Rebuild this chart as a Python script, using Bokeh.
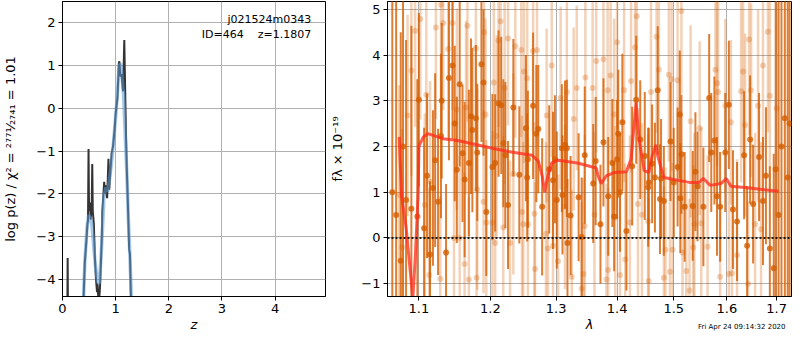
from bokeh.plotting import figure
from bokeh.layouts import row
from bokeh.models import Range1d, FixedTicker, CustomJSTickFormatter, Label, Span, ColumnDataSource
from bokeh.embed import file_html
from bokeh.resources import INLINE

# ---------------- left panel: redshift PDF ----------------
pz_z_raw = [0.090, 0.097, 0.104, 0.38, 0.42, 0.45, 0.47, 0.48, 0.49, 0.50, 0.52, 0.53, 0.55, 0.56, 0.57,
            0.59, 0.61, 0.63, 0.65, 0.66, 0.68, 0.70, 0.71, 0.725, 0.74, 0.75, 0.77, 0.785, 0.80, 0.81,
            0.84, 0.865, 0.88, 0.90, 0.925, 0.95, 0.98, 1.00, 1.035, 1.06, 1.07, 1.09, 1.11, 1.14, 1.163,
            1.18, 1.195, 1.21, 1.23, 1.255, 1.27, 1.29]
pz_logp_raw = [-5.0, -3.5, -5.0, -5.0, -3.6, -3.09, -2.7, -2.63, -0.95, -2.4, -2.2, -2.6, -2.3, -1.3, -2.4,
               -2.7, -3.5, -4.0, -4.3, -4.1, -4.6, -4.3, -4.07, -3.54, -3.0, -2.4, -2.0, -1.72, -2.0, -1.8,
               -2.1, -1.18, -1.9, -1.5, -1.04, -0.9, -0.5, -0.13, 0.25, 1.05, 1.1, 0.75, 0.8, 0.4, 1.6,
               0.4, -0.6, -1.41, -2.2, -3.31, -3.4, -4.6]
pz_z_smooth = [0.38, 0.42, 0.46, 0.49, 0.52, 0.55, 0.58, 0.62, 0.66, 0.69, 0.72, 0.75, 0.78, 0.82, 0.85,
               0.88, 0.92, 0.96, 1.00, 1.03, 1.06, 1.08, 1.10, 1.12, 1.15, 1.18, 1.21, 1.24, 1.27, 1.30]
pz_logp_smooth = [-5.0, -3.6, -2.8, -2.5, -2.55, -2.7, -3.1, -3.7, -4.05, -4.1, -3.6, -2.9, -2.05, -1.85, -1.95,
                  -1.7, -1.3, -0.8, -0.2, 0.3, 0.9, 1.05, 1.0, 0.75, 0.3, -0.6, -1.5, -2.6, -3.5, -4.6]
pz_xticks = [0, 1, 2, 3, 4]
pz_yticks = [-4, -3, -2, -1, 0, 1, 2]

# ---------------- right panel: spectrum ----------------
dark_wave = [1.065, 1.070, 1.076, 1.079, 1.083, 1.090, 1.098, 1.100, 1.107, 1.111, 1.115, 1.119, 1.122, 1.126,
             1.130, 1.131, 1.137, 1.141, 1.146, 1.149, 1.152, 1.156, 1.160, 1.163, 1.169, 1.172, 1.174, 1.179,
             1.181, 1.187, 1.190, 1.194, 1.203, 1.207, 1.212, 1.216, 1.219, 1.222, 1.226, 1.234, 1.243, 1.253,
             1.255, 1.256, 1.264, 1.269, 1.272, 1.278, 1.289, 1.295, 1.298, 1.301, 1.309, 1.310, 1.314, 1.317,
             1.318, 1.323, 1.336, 1.341, 1.346, 1.360, 1.364, 1.372, 1.377, 1.385, 1.392, 1.395, 1.400, 1.402,
             1.405, 1.409, 1.416, 1.426, 1.433, 1.440, 1.448, 1.454, 1.455, 1.461, 1.466, 1.471, 1.475, 1.477,
             1.482, 1.494, 1.500, 1.507, 1.511, 1.512, 1.514, 1.520, 1.535, 1.540, 1.544, 1.555, 1.566, 1.570,
             1.576, 1.581, 1.587, 1.597, 1.604, 1.612, 1.620, 1.634, 1.640, 1.646, 1.652, 1.664, 1.672, 1.678,
             1.686, 1.694, 1.698, 1.704, 1.710, 1.717, 1.723, 1.727]
dark_flux = [1.0, 0.5, -0.5, 2.0, 0.83, 0.64, 0.47, 3.02, 0.21, 1.36, -0.36, 1.09, 1.70, 0.79,
             2.23, 3.00, -0.32, 3.50, 3.77, 2.50, 1.49, 3.36, 1.85, 1.28, 1.64, 2.66, 2.36, 2.62,
             1.87, 3.80, 3.40, 0.57, 1.55, 1.64, 2.94, 2.90, 2.07, 1.81, 0.72, 2.85, 1.38, 2.40,
             1.32, 1.72, 2.89, 2.28, 2.38, 0.68, 1.50, 1.26, 1.72, 0.83, 1.96, 0.94, 2.04, 1.96,
             -0.11, 0.49, 0.89, 0.02, 1.81, 1.19, 1.68, 0.30, 2.09, 0.91, 1.64, 0.47, 1.72, 2.28,
             1.00, 2.53, 0.15, 1.57, 3.02, 2.15, 1.79, 1.11, 1.21, 1.62, 1.32, 3.23, 0.85, 1.30,
             0.81, 2.11, 1.21, 1.55, 2.70, 0.87, 1.83, 0.68, 0.70, 1.45, 1.13, 0.68, 3.06, 1.87,
             2.13, 0.91, 0.68, 1.87, 2.91, 0.62, 0.36, 1.81, -0.17, 2.15, 0.74, 1.77, 0.81, 1.36,
             -0.23, -0.66, 1.5, 0.5, 2.0, 2.62, 1.32, 2.5]
dark_err = [6.0, 5.0, 5.0, 5.0, 3.5, 4.0, 3.0, 1.9, 2.2, 1.8, 1.6, 1.7, 1.9, 1.6,
            1.8, 1.7, 1.5, 1.8, 1.6, 1.7, 1.6, 1.8, 1.5, 1.7, 1.6, 1.7, 1.8, 1.6,
            1.5, 1.7, 1.6, 1.4, 1.6, 1.5, 1.6, 1.5, 1.4, 1.6, 1.4, 1.5, 1.5, 1.6,
            1.4, 1.5, 1.6, 1.5, 1.4, 1.5, 1.4, 1.5, 1.4, 1.5, 1.4, 1.3, 1.4, 1.5,
            1.4, 1.3, 1.4, 1.3, 1.5, 1.3, 1.4, 1.3, 1.4, 1.3, 1.4, 1.2, 1.3, 1.4,
            1.3, 1.5, 1.3, 1.3, 1.4, 1.3, 1.4, 1.3, 1.2, 1.3, 1.2, 1.4, 1.2, 1.3,
            1.2, 1.3, 1.2, 1.3, 1.4, 1.2, 1.3, 1.2, 1.2, 1.3, 1.2, 1.3, 1.4, 1.3,
            1.4, 1.3, 1.2, 1.3, 1.4, 1.3, 1.3, 1.4, 1.3, 1.4, 1.3, 1.4, 1.4, 1.5,
            1.8, 2.5, 6.0, 6.0, 6.0, 6.0, 6.0, 6.0]

light_wave = [1.074, 1.078, 1.085, 1.090, 1.095, 1.102, 1.108, 1.110, 1.114, 1.115, 1.123, 1.129, 1.130, 1.133,
              1.140, 1.146, 1.148, 1.152, 1.156, 1.163, 1.165, 1.167, 1.169, 1.179, 1.180, 1.181, 1.190, 1.191,
              1.193, 1.194, 1.203, 1.205, 1.207, 1.209, 1.212, 1.215, 1.219, 1.221, 1.226, 1.229, 1.234, 1.237,
              1.246, 1.247, 1.249, 1.250, 1.255, 1.256, 1.264, 1.266, 1.267, 1.270, 1.284, 1.285, 1.287, 1.293,
              1.295, 1.303, 1.307, 1.314, 1.317, 1.325, 1.328, 1.333, 1.341, 1.344, 1.346, 1.347, 1.359, 1.362,
              1.365, 1.377, 1.382, 1.384, 1.385, 1.389, 1.395, 1.397, 1.400, 1.405, 1.412, 1.414, 1.422, 1.424,
              1.431, 1.434, 1.436, 1.443, 1.454, 1.455, 1.459, 1.469, 1.473, 1.482, 1.485, 1.491, 1.493, 1.496,
              1.498, 1.507, 1.514, 1.516, 1.523, 1.529, 1.531, 1.536, 1.538, 1.548, 1.551, 1.563, 1.578, 1.581,
              1.583, 1.587, 1.597, 1.604, 1.608, 1.610, 1.620, 1.628, 1.632, 1.636, 1.642, 1.644, 1.648, 1.656,
              1.662, 1.668, 1.672, 1.682, 1.686, 1.700]
light_flux = [0.94, -0.21, 2.68, 3.66, 4.53, 4.79, 0.72, 3.13, -0.81, 1.23, 4.60, -0.89, 5.10, 4.70,
              4.13, 4.70, 0.00, 2.81, 0.00, -0.57, 2.85, 4.64, -0.91, 4.15, -0.87, 1.06, 0.79, 4.50,
              2.70, 0.34, 0.34, 3.40, -0.11, 2.23, 4.32, 4.74, 0.23, 3.28, 4.36, -0.11, 1.40, 4.19,
              4.11, 0.57, 0.30, 3.64, 3.49, 0.30, 4.09, 0.53, -0.68, 4.11, 0.09, 2.68, -0.23, 3.77,
              -0.17, -0.51, 3.06, 0.68, 3.19, -0.85, 2.60, 3.28, -1.11, -0.79, 0.26, 3.51, 3.28, 0.51,
              3.87, 3.91, -0.91, 3.23, -0.70, 3.55, 2.70, 0.45, 4.28, -0.81, 3.23, -0.47, 0.34, 3.43,
              4.17, 4.85, 0.74, 0.51, 0.36, -0.94, 3.19, 4.40, 3.68, -0.87, -0.26, 3.57, -0.74, 3.47,
              -0.26, 3.45, 4.96, -0.32, -0.72, -1.15, 2.55, -0.21, 0.30, 2.40, 0.32, -0.19, 3.68, 3.38,
              3.19, -0.85, 2.89, -0.79, 2.53, -0.77, -0.38, 3.21, 3.64, 2.47, -1.00, 4.34, 3.23, 0.30,
              2.89, 0.19, 3.77, 4.51, 3.11, 2.83]
light_err = [2.4, 2.6, 2.2, 2.3, 2.1, 2.2, 2.0, 2.1, 1.9, 2.2, 2.0, 1.8, 2.1, 1.9,
             2.0, 1.9, 2.1, 2.2, 1.8, 2.0, 1.9, 2.1, 1.8, 2.0, 1.9, 2.2, 2.0, 1.9,
             2.1, 1.8, 2.0, 1.9, 2.1, 2.2, 1.9, 1.8, 2.0, 2.1, 1.9, 1.8, 2.2, 2.0,
             1.9, 2.1, 1.8, 2.0, 2.1, 1.9, 1.8, 2.0, 1.9, 2.1, 2.0, 1.9, 1.8, 2.0,
             2.1, 1.9, 2.0, 1.8, 2.1, 1.9, 2.0, 1.8, 1.9, 2.1, 2.0, 1.9, 2.1, 1.8,
             2.0, 1.9, 2.1, 2.0, 1.8, 1.9, 2.1, 2.0, 1.9, 1.8, 2.0, 2.1, 1.9, 2.0,
             1.8, 1.9, 2.1, 2.0, 1.9, 1.8, 2.0, 2.1, 1.9, 2.0, 1.8, 1.9, 2.1, 2.0,
             1.9, 2.0, 1.8, 2.1, 1.9, 2.0, 2.1, 1.8, 2.0, 1.9, 2.1, 2.0, 1.9, 1.8,
             2.0, 2.1, 1.9, 2.0, 1.8, 1.9, 2.1, 2.0, 1.9, 2.0, 1.8, 2.1, 1.9, 2.0,
             2.1, 1.9, 2.0, 2.2, 2.1, 2.3]

model_wave = [1.074, 1.077, 1.083, 1.090, 1.092, 1.095, 1.099, 1.100, 1.106, 1.112, 1.133, 1.153, 1.203,
              1.226, 1.262, 1.272, 1.278, 1.282, 1.287, 1.293, 1.303, 1.334, 1.365, 1.368, 1.373, 1.382,
              1.395, 1.416, 1.424, 1.428, 1.433, 1.435, 1.438, 1.447, 1.455, 1.461, 1.468, 1.471, 1.482,
              1.500, 1.531, 1.546, 1.555, 1.568, 1.589, 1.599, 1.608, 1.646, 1.704]
model_flux = [2.21, 0.94, 0.23, -0.98, -1.30, -0.49, 0.94, 2.00, 2.21, 2.28, 2.17, 2.13, 1.96,
              1.89, 1.81, 1.68, 1.36, 1.00, 1.36, 1.64, 1.70, 1.64, 1.53, 1.36, 1.19, 1.36,
              1.43, 1.45, 1.72, 2.30, 2.96, 2.60, 2.15, 1.47, 1.43, 1.79, 2.04, 1.79, 1.32,
              1.28, 1.21, 1.21, 1.30, 1.15, 1.19, 1.30, 1.13, 1.09, 1.02]
spec_xticks = [1.1, 1.2, 1.3, 1.4, 1.5, 1.6, 1.7]
spec_yticks = [-1, 0, 1, 2, 3, 4, 5]

FONT = "DejaVu Sans"
ORANGE = "#d55e00"
MINUS_FMT = "return (tick < 0 ? '\\u2212' + (-tick) : '' + tick);"


def style(p):
    p.outline_line_color = "black"
    p.outline_line_width = 1
    p.background_fill_color = "white"
    p.border_fill_color = "white"
    for ax in [p.xaxis[0], p.yaxis[0]]:
        ax.major_label_text_font = FONT
        ax.major_label_text_font_size = "13px"
        ax.major_label_text_color = "black"
        ax.axis_label_text_font = FONT
        ax.axis_label_text_font_size = "13px"
        ax.axis_label_text_color = "black"
        ax.major_tick_in = 0
        ax.major_tick_out = 4
        ax.minor_tick_in = 0
        ax.minor_tick_out = 0
        ax.major_tick_line_color = "black"
        ax.axis_line_color = "black"
        ax.major_label_standoff = 3
    p.grid.grid_line_color = "#b0b0b0"
    p.grid.grid_line_width = 1


H = 342
BOTTOM = 44

p1 = figure(width=327, height=H, x_range=Range1d(0, 4.95), y_range=Range1d(-4.4, 2.5),
            output_backend="svg", toolbar_location=None,
            min_border_left=54, min_border_right=2, min_border_top=1, min_border_bottom=BOTTOM)
style(p1)
p1.xaxis.ticker = FixedTicker(ticks=pz_xticks)
p1.yaxis.ticker = FixedTicker(ticks=pz_yticks)
p1.xaxis.formatter = CustomJSTickFormatter(code=MINUS_FMT)
p1.yaxis.formatter = CustomJSTickFormatter(code=MINUS_FMT)
p1.xaxis.axis_label = "z"
p1.xaxis.axis_label_text_font_style = "italic"
p1.xaxis.axis_label_standoff = 1
p1.yaxis.axis_label = "log p(z) / \u03c7\u00b2 = \u00b2\u2077\u2077\u00b9\u2044\u2082\u2087\u2084\u2081 = 1.01"
p1.yaxis.axis_label_text_font_style = "normal"
p1.yaxis.axis_label_standoff = 15

p1.line(pz_z_raw, pz_logp_raw, line_color="#333333", line_width=2)
p1.line(pz_z_smooth, pz_logp_smooth, line_color="#5b9bd5", line_alpha=0.55, line_width=3.5)

p1.add_layout(Label(x=4.68, y=2.07, text="j021524m0343", text_align="right", text_baseline="middle",
                    text_font=FONT, text_font_size="11px", text_color="black"))
p1.add_layout(Label(x=4.68, y=1.73, text="ID=464\u00a0\u00a0\u00a0\u00a0z=1.1807", text_align="right",
                    text_baseline="middle", text_font=FONT, text_font_size="11px", text_color="black"))

p2 = figure(width=465, height=H, x_axis_type="log", x_range=Range1d(1.0588, 1.731),
            y_range=Range1d(-1.28, 5.17), output_backend="svg", toolbar_location=None,
            min_border_left=56, min_border_right=1, min_border_top=1, min_border_bottom=BOTTOM)
style(p2)
p2.xaxis.ticker = FixedTicker(ticks=spec_xticks)
p2.xaxis.formatter = CustomJSTickFormatter(code="return tick.toFixed(1);")
p2.yaxis.ticker = FixedTicker(ticks=spec_yticks)
p2.yaxis.formatter = CustomJSTickFormatter(code=MINUS_FMT)
p2.xaxis.axis_label = "\u03bb"
p2.xaxis.axis_label_text_font_style = "italic"
p2.xaxis.axis_label_standoff = 1
p2.yaxis.axis_label = "f\u03bb \u00d7 10\u207b\u00b9\u2079"
p2.yaxis.axis_label_text_font_style = "normal"
p2.yaxis.axis_label_standoff = 13

light_src = ColumnDataSource(dict(w=light_wave, f=light_flux,
                                  lo=[f - e for f, e in zip(light_flux, light_err)],
                                  hi=[f + e for f, e in zip(light_flux, light_err)]))
dark_src = ColumnDataSource(dict(w=dark_wave, f=dark_flux,
                                 lo=[f - e for f, e in zip(dark_flux, dark_err)],
                                 hi=[f + e for f, e in zip(dark_flux, dark_err)]))

p2.segment(x0="w", y0="lo", x1="w", y1="hi", source=light_src, line_color=ORANGE, line_alpha=0.28, line_width=2.5)
p2.scatter("w", "f", source=light_src, size=6, fill_color=ORANGE, fill_alpha=0.28, line_color=None)
p2.segment(x0="w", y0="lo", x1="w", y1="hi", source=dark_src, line_color=ORANGE, line_alpha=0.8, line_width=2)
p2.scatter("w", "f", source=dark_src, size=6, fill_color=ORANGE, fill_alpha=0.8, line_color=None)
p2.line(model_wave, model_flux, line_color="#ff2a1a", line_alpha=0.75, line_width=3)

p2.add_layout(Span(location=0, dimension="width", line_color="black", line_width=2, line_dash="2 2",
                   line_alpha=0.85))
p2.add_layout(Label(x=398, y=16, x_units="screen", y_units="screen", text="Fri Apr 24 09:14:32 2020",
                    text_align="right", text_baseline="middle", text_font=FONT, text_font_size="7px",
                    text_color="black"), "below")

layout = row(p1, p2)
open("out.html", "w").write(file_html(layout, INLINE))
